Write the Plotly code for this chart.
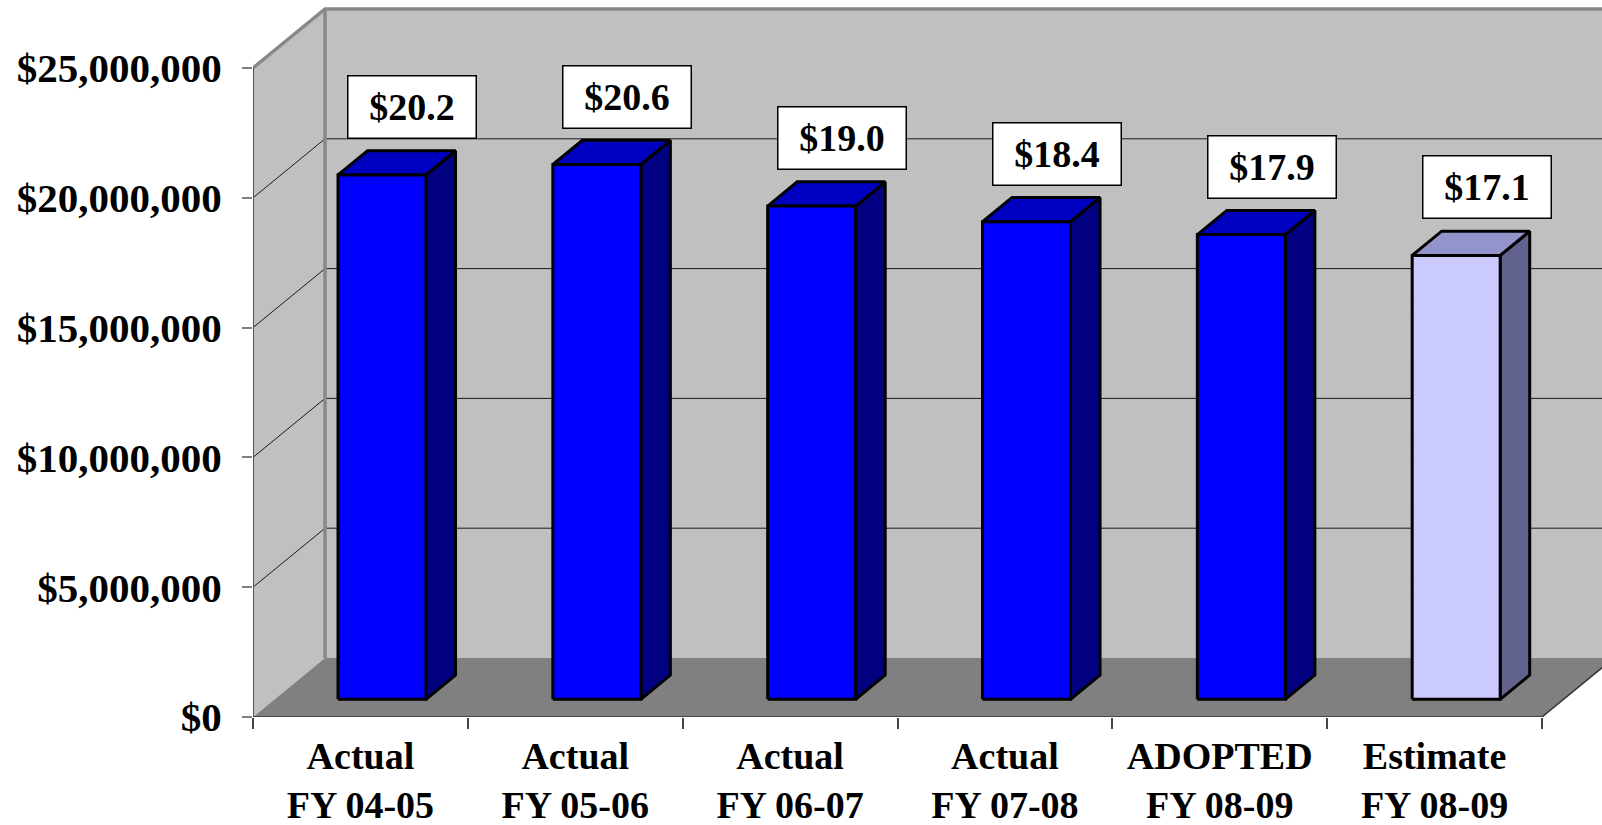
import plotly.graph_objects as go

# ---- data -------------------------------------------------------------
statuses = ["Actual", "Actual", "Actual", "Actual", "ADOPTED", "Estimate"]
fiscal_years = ["FY 04-05", "FY 05-06", "FY 06-07", "FY 07-08", "FY 08-09", "FY 08-09"]
amounts = [20_200_000, 20_600_000, 19_000_000, 18_400_000, 17_900_000, 17_100_000]
y_ticks = [0, 5_000_000, 10_000_000, 15_000_000, 20_000_000, 25_000_000]

# ---- 3-D look parameters (in axis units) ------------------------------
PX_PER_CAT = (1542 - 253) / 6          # pixels per category on the front plane
PX_PER_DOLLAR = (717 - 68) / 25_000_000
DX = 72 / PX_PER_CAT                    # full depth, horizontal component
DY = 59 / PX_PER_DOLLAR                 # full depth, vertical component
BAR_FRONT, BAR_BACK = 0.30, 0.71        # bar position inside the depth
BAR_HALF = 44 / PX_PER_CAT              # half the bar's front width
Y_MAX = y_ticks[-1]
X_LO, X_HI = -0.5, len(amounts) - 0.5

FONT = "Liberation Serif, Times New Roman, serif"

fig = go.Figure()


def poly(xs, ys, fill=None, line_color=None, width=0, pattern=None):
    kw = dict(
        x=list(xs) + [xs[0]], y=list(ys) + [ys[0]],
        mode="lines", hoverinfo="skip", showlegend=False,
        line=dict(color=line_color or "rgba(0,0,0,0)", width=width),
    )
    if fill:
        kw.update(fill="toself", fillcolor=fill)
    if pattern:
        kw.update(fillpattern=pattern)
    fig.add_trace(go.Scatter(**kw))


def seg(xs, ys, color, width):
    fig.add_trace(go.Scatter(x=xs, y=ys, mode="lines", hoverinfo="skip",
                             showlegend=False, line=dict(color=color, width=width)))


# back wall (runs past the right edge of the page)
poly([X_LO + DX, X_HI + 2 * DX, X_HI + 2 * DX, X_LO + DX],
     [DY, DY, Y_MAX + DY, Y_MAX + DY], fill="#C0C0C0")
# left side wall
poly([X_LO, X_LO + DX, X_LO + DX, X_LO],
     [0, DY, Y_MAX + DY, Y_MAX], fill="#C0C0C0")
# floor
poly([X_LO, X_HI, X_HI + DX, X_LO + DX], [0, 0, DY, DY], fill="#808080")

# gridlines on both walls
for t in y_ticks[1:-1]:
    seg([X_LO, X_LO + DX, X_HI + 2 * DX], [t, t + DY, t + DY], "#1a1a1a", 1)

# wall edges
seg([X_LO + DX, X_LO + DX], [DY, Y_MAX + DY], "#888888", 3.5)
seg([X_LO, X_LO + DX, X_HI + 2 * DX], [Y_MAX, Y_MAX + DY, Y_MAX + DY], "#888888", 3.5)
seg([X_LO, X_LO], [0, Y_MAX], "#555555", 2)
# floor front and right edges
seg([X_LO, X_HI, X_HI + DX], [0, 0, DY], "#333333", 1.5)

# bars
blue = dict(front="#0000FF", top="#0000C0", side="#000080", pattern=None)
estimate = dict(front="#C8C8FF", top="#9494CC", side="#62628E",
                pattern=dict(shape="/", size=3, solidity=0.25,
                             fgcolor="#B0B0EE", bgcolor="#CDCDFF"))

dbx = (BAR_BACK - BAR_FRONT) * DX
dby = (BAR_BACK - BAR_FRONT) * DY
for i, (status, v) in enumerate(zip(statuses, amounts)):
    st = estimate if status == "Estimate" else blue
    x0 = i + BAR_FRONT * DX - BAR_HALF
    x1 = i + BAR_FRONT * DX + BAR_HALF
    y0 = BAR_FRONT * DY
    y1 = v + BAR_FRONT * DY
    poly([x1, x1, x1 + dbx, x1 + dbx], [y0, y1, y1 + dby, y0 + dby],
         fill=st["side"], line_color="black", width=3)
    poly([x0, x1, x1 + dbx, x0 + dbx], [y1, y1, y1 + dby, y1 + dby],
         fill=st["top"], line_color="black", width=3)
    poly([x0, x1, x1, x0], [y0, y0, y1, y1], fill=st["front"],
         line_color="black", width=3, pattern=st["pattern"])

    # value label floating above the bar
    fig.add_annotation(
        x=i + 52 / PX_PER_CAT, y=y1 + 68 / PX_PER_DOLLAR, xref="x", yref="y",
        text=f"${v / 1e6:.1f}", showarrow=False,
        font=dict(family=FONT, size=38, color="black", weight="bold"),
        bgcolor="white", bordercolor="black", borderwidth=1.5, borderpad=0,
        width=127, height=61, align="center", valign="middle",
    )

# category tick labels on an overlaid axis, tick marks at category boundaries
fig.add_trace(go.Scatter(x=[0], y=[0], xaxis="x2", mode="markers",
                         marker=dict(opacity=0), hoverinfo="skip", showlegend=False))

x_range = [X_LO, X_LO + (1602 - 253) / PX_PER_CAT]
fig.update_layout(
    width=1602, height=825,
    margin=dict(l=253, r=0, t=0, b=108, autoexpand=False),
    paper_bgcolor="white", plot_bgcolor="white",
    xaxis=dict(range=x_range, showgrid=False, zeroline=False, showline=False,
               automargin=False,
               tickmode="array", tickvals=[k - 0.5 for k in range(len(amounts) + 1)],
               showticklabels=False, ticks="outside", ticklen=11, tickwidth=1.5,
               tickcolor="#444444", fixedrange=True),
    xaxis2=dict(range=x_range, overlaying="x", side="bottom", anchor="y",
                showgrid=False, zeroline=False, showline=False, automargin=False,
                tickmode="array", tickvals=list(range(len(amounts))),
                ticktext=[f"{s}<br>{fy}" for s, fy in zip(statuses, fiscal_years)],
                ticks="", ticklabelstandoff=13,
                tickfont=dict(family=FONT, size=38, color="black", weight="bold")),
    yaxis=dict(range=[0, 717 / PX_PER_DOLLAR], showgrid=False, zeroline=False,
               showline=False, automargin=False,
               tickmode="array", tickvals=y_ticks,
               ticktext=[f"${t:,.0f}" for t in y_ticks],
               ticks="outside", ticklen=10, tickwidth=1.5, tickcolor="#808080",
               ticklabelstandoff=12,
               tickfont=dict(family=FONT, size=41, color="black", weight="bold")),
)

fig.write_html("out.html")
